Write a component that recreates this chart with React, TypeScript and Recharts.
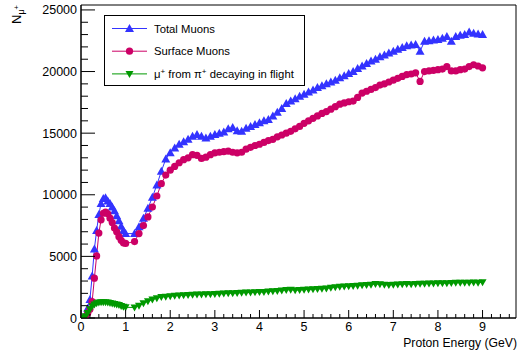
import React from 'react';
import { LineChart, Line, XAxis, YAxis, ReferenceArea } from 'recharts';

// proton energy in GeV; finer binning below 1 GeV, nothing at 1.1
const energies = [
  0.05, 0.1, 0.15, 0.2, 0.25, 0.3, 0.35, 0.4, 0.45, 0.5,
  0.55, 0.6, 0.65, 0.7, 0.75, 0.8, 0.85, 0.9, 0.95, 1.0,
  1.2, 1.3, 1.4, 1.5, 1.6, 1.7, 1.8, 1.9, 2.0, 2.1,
  2.2, 2.3, 2.4, 2.5, 2.6, 2.7, 2.8, 2.9, 3.0, 3.1,
  3.2, 3.3, 3.4, 3.5, 3.6, 3.7, 3.8, 3.9, 4.0, 4.1,
  4.2, 4.3, 4.4, 4.5, 4.6, 4.7, 4.8, 4.9, 5.0, 5.1,
  5.2, 5.3, 5.4, 5.5, 5.6, 5.7, 5.8, 5.9, 6.0, 6.1,
  6.2, 6.3, 6.4, 6.5, 6.6, 6.7, 6.8, 6.9, 7.0, 7.1,
  7.2, 7.3, 7.4, 7.5, 7.6, 7.7, 7.8, 7.9, 8.0, 8.1,
  8.2, 8.3, 8.4, 8.5, 8.6, 8.7, 8.8, 8.9, 9.0,
];

const totalMuons = [
  30, 250, 800, 1500, 3400, 5600, 7100, 8400, 9300, 9700,
  9750, 9500, 9300, 9000, 8700, 8300, 7900, 7450, 7100, 6850,
  6850, 7400, 8100, 8900, 9800, 10800, 11900, 12900, 13400, 13800,
  14100, 14300, 14500, 14750, 14900, 14750, 14600, 14750, 14900, 15000,
  15100, 15350, 15450, 15200, 15150, 15400, 15550, 15700, 15850, 16000,
  16100, 16400, 16700, 17000, 17400, 17600, 17800, 18000, 18150, 18350,
  18500, 18700, 18850, 19000, 19150, 19300, 19500, 19650, 19850, 20000,
  20250, 20450, 20650, 20850, 21000, 21200, 21350, 21500, 21650, 21800,
  21950, 22100, 22150, 22200, 21650, 22450, 22500, 22550, 22600, 22700,
  22850, 22450, 22850, 22950, 23000, 23200, 23100, 23050, 23000,
];

const surfaceMuons = [
  0, 80, 380, 700, 1330, 3230, 5040, 6890, 7970, 8500,
  8600, 8450, 8100, 7750, 7300, 7000, 6600, 6300, 6100, 6050,
  6200, 6850, 7500, 8200, 9000, 9900, 10900, 11600, 12000, 12300,
  12600, 12850, 13000, 13250, 13200, 12950, 13050, 13250, 13400, 13450,
  13500, 13550, 13450, 13400, 13450, 13700, 13850, 14000, 14100, 14250,
  14400, 14500, 14700, 14850, 15000, 15150, 15350, 15550, 15800, 16000,
  16200, 16400, 16600, 16750, 16950, 17150, 17350, 17450, 17550, 17600,
  17900, 18250, 18400, 18550, 18700, 18900, 19000, 19150, 19300, 19450,
  19600, 19750, 19800, 19900, 19200, 20000, 20050, 20100, 20150, 20200,
  20400, 20050, 20050, 20150, 20200, 20400, 20550, 20450, 20300,
];

const decayMuons = [
  0, 150, 400, 700, 950, 1100, 1200, 1250, 1280, 1280,
  1270, 1250, 1220, 1180, 1140, 1100, 1050, 980, 920, 870,
  850, 1000, 1200, 1350, 1500, 1600, 1700, 1730, 1760, 1800,
  1830, 1850, 1870, 1880, 1900, 1900, 1920, 1930, 1950, 1960,
  1980, 2000, 2010, 2030, 2040, 2060, 2070, 2080, 2100, 2120,
  2150, 2180, 2200, 2230, 2270, 2300, 2250, 2280, 2300, 2320,
  2340, 2350, 2370, 2400, 2450, 2500, 2530, 2560, 2580, 2600,
  2620, 2650, 2680, 2700, 2760, 2740, 2700, 2680, 2700, 2720,
  2730, 2750, 2740, 2760, 2770, 2780, 2790, 2800, 2810, 2820,
  2830, 2840, 2860, 2870, 2860, 2870, 2880, 2860, 2900,
];

// major + minor tick positions
const xTicks = Array.from({ length: 49 }, (_, i) => i / 5);
const yTicks = Array.from({ length: 26 }, (_, i) => i * 1000);

const data = energies.map((e, i) => ({
  e,
  total: totalMuons[i],
  surface: surfaceMuons[i],
  decay: decayMuons[i],
}));

const BLUE = '#3333ff';
const RED = '#cc0066';
const GREEN = '#009900';
const FONT = '"Liberation Sans", Arial, Helvetica, sans-serif';

const triUp = (cx: number, cy: number, fill: string, key?: number) => (
  <polygon key={key} points={`${cx},${cy - 4.5} ${cx - 4.5},${cy + 3.5} ${cx + 4.5},${cy + 3.5}`} fill={fill} />
);
const triDown = (cx: number, cy: number, fill: string, key?: number) => (
  <polygon key={key} points={`${cx},${cy + 4} ${cx - 4},${cy - 3} ${cx + 4},${cy - 3}`} fill={fill} />
);
const circle = (cx: number, cy: number, fill: string, key?: number) => (
  <circle key={key} cx={cx} cy={cy} r={3.6} fill={fill} />
);

const XTick = (props: any) => {
  const { x, y, payload } = props;
  const v = payload.value;
  const major = Math.abs(v - Math.round(v)) < 1e-6;
  return (
    <g>
      <line x1={x} x2={x} y1={y} y2={y - (major ? 8 : 4)} stroke="#000" />
      {major && (
        <text x={x} y={y + 13} textAnchor="middle" fontSize={12.5} fontFamily={FONT} fill="#000">
          {Math.round(v)}
        </text>
      )}
    </g>
  );
};

const YTick = (props: any) => {
  const { x, y, payload } = props;
  const v = payload.value;
  const major = v % 5000 === 0;
  return (
    <g>
      <line x1={x} x2={x + (major ? 14 : 7)} y1={y} y2={y} stroke="#000" />
      {major && (
        <text x={x - 4} y={y + 4.5} textAnchor="end" fontSize={12.5} fontFamily={FONT} fill="#000">
          {v}
        </text>
      )}
    </g>
  );
};

const legendRows = [
  { label: 'total', color: BLUE, marker: triUp },
  { label: 'surface', color: RED, marker: circle },
  { label: 'decay', color: GREEN, marker: triDown },
];

const LegendBox = () => (
  <svg
    width={202}
    height={72}
    style={{ position: 'absolute', left: 104, top: 15 }}
  >
    <rect x={0.5} y={0.5} width={200} height={70} fill="#fff" stroke="#000" />
    {legendRows.map((r, i) => {
      const cy = 13.5 + i * 22.7;
      return (
        <g key={r.label}>
          <line x1={8} x2={43} y1={cy} y2={cy} stroke={r.color} />
          {r.marker(25.5, cy, r.color)}
        </g>
      );
    })}
    <text x={50} y={13.5 + 4} fontSize={11.3} fontFamily={FONT}>Total Muons</text>
    <text x={50} y={36.2 + 4} fontSize={11.3} fontFamily={FONT}>Surface Muons</text>
    <text x={50} y={58.9 + 4} fontSize={11.3} fontFamily={FONT}>
      μ<tspan fontSize={8} dy={-4}>+</tspan>
      <tspan dy={4}> from π</tspan>
      <tspan fontSize={8} dy={-4}>+</tspan>
      <tspan dy={4}> decaying in flight</tspan>
    </text>
  </svg>
);

const App: React.FC = () => (
  <div style={{ position: 'absolute', left: 0, top: 0, width: 518, height: 359, background: '#fff' }}>
    <LineChart width={518} height={359} data={data} margin={{ top: 5, right: 2, bottom: 11, left: 21 }}>
      <ReferenceArea x1={0} x2={9.75} y1={0} y2={25400} fill="none" stroke="#000" strokeOpacity={1} />
      <XAxis
        dataKey="e"
        type="number"
        domain={[0, 9.75]}
        ticks={xTicks}
        interval={0}
        height={30}
        tickSize={0}
        tickMargin={0}
        tick={<XTick />}
        axisLine={{ stroke: '#000' }}
        allowDataOverflow
      />
      <YAxis
        type="number"
        domain={[0, 25400]}
        ticks={yTicks}
        interval={0}
        width={60}
        tickSize={0}
        tickMargin={0}
        tick={<YTick />}
        axisLine={{ stroke: '#000' }}
        allowDataOverflow
        label={{
          content: () => (
            <text transform="rotate(-90, 21, 24)" x={21} y={24} fontSize={13} fontFamily={FONT} fill="#000">
              N<tspan fontSize={9} dy={3}>μ</tspan>
              <tspan fontSize={7.5} dy={-5}>+</tspan>
            </text>
          ),
        }}
      />
      <Line
        dataKey="total"
        stroke={BLUE}
        strokeWidth={1}
        isAnimationActive={false}
        dot={(p: any) => triUp(p.cx, p.cy, BLUE, p.index)}
      />
      <Line
        dataKey="surface"
        stroke={RED}
        strokeWidth={1}
        isAnimationActive={false}
        dot={(p: any) => circle(p.cx, p.cy, RED, p.index)}
      />
      <Line
        dataKey="decay"
        stroke={GREEN}
        strokeWidth={1}
        isAnimationActive={false}
        dot={(p: any) => triDown(p.cx, p.cy, GREEN, p.index)}
      />
    </LineChart>
    <LegendBox />
    <div
      style={{
        position: 'absolute',
        right: 1,
        top: 336,
        fontFamily: FONT,
        fontSize: 12.2,
        color: '#000',
        whiteSpace: 'nowrap',
      }}
    >
      Proton Energy (GeV)
    </div>
  </div>
);

export default App;
